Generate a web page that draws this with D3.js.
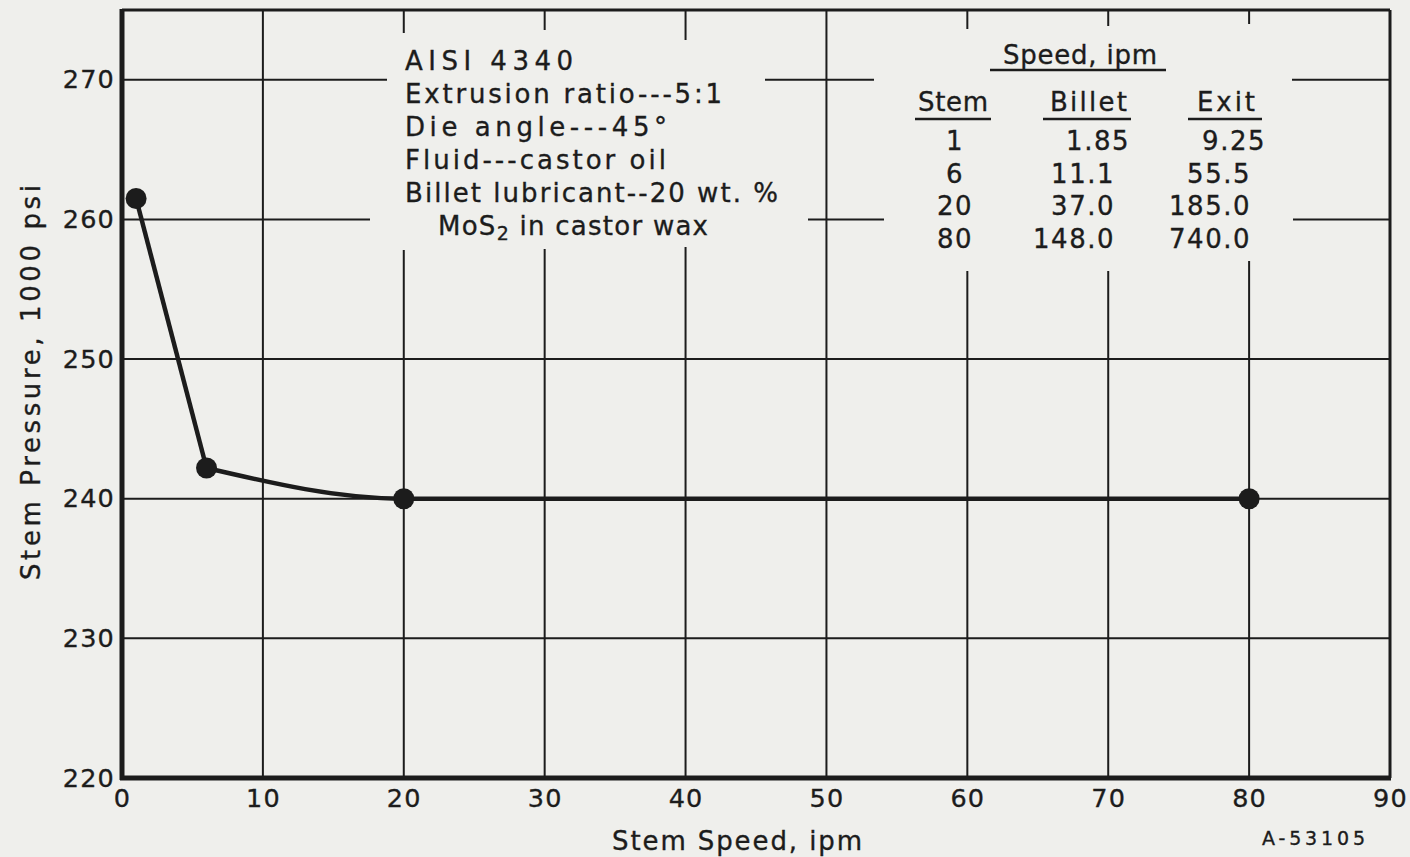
<!DOCTYPE html>
<html>
<head>
<meta charset="utf-8">
<script src="https://cdn.jsdelivr.net/npm/d3@7"></script>
<style>
  html, body { margin: 0; padding: 0; background: #efefec; }
  svg { display: block; }
  text { font-family: "DejaVu Sans", sans-serif; fill: #1c1c1c; stroke: #1c1c1c; stroke-width: 0.35px; }
</style>
</head>
<body>
<svg id="chart" width="1410" height="857"></svg>
<script>
// ---- data ----
const stemSpeed = [1, 6, 20, 80];
const stemPressure = [261.5, 242.2, 240, 240];
const xTicks = [0, 10, 20, 30, 40, 50, 60, 70, 80, 90];
const yTicks = [220, 230, 240, 250, 260, 270];
const tableStem = ["1", "6", "20", "80"];
const tableBillet = ["1.85", "11.1", "37.0", "148.0"];
const tableExit = ["9.25", "55.5", "185.0", "740.0"];
const notes = ["AISI 4340", "Extrusion ratio---5:1", "Die angle---45°", "Fluid---castor oil", "Billet lubricant--20 wt. %"];
const xTitle = "Stem Speed, ipm";
const yTitle = "Stem Pressure, 1000 psi";
const figId = "A-53105";

// ---- layout ----
const svg = d3.select("#chart");
const L = 122, R = 1390, T = 10, B = 778;
const x = d3.scaleLinear().domain([0, 90]).range([L, R]);
const y = d3.scaleLinear().domain([220, 275]).range([B, T]);
const ink = "#1c1c1c";

// grid lines (with breaks around the annotation blocks, in pixels)
const hBreaks = {
  270: [[L, 387], [765, 874], [1292, R]],
  260: [[L, 370], [808, 884], [1293, R]]
};
const vBreaks = {
  20: [[T, 33], [250, B]],
  30: [[T, 30], [249, B]],
  40: [[T, 40], [247, B]],
  60: [[T, 29], [271, B]],
  70: [[T, 26], [271, B]],
  80: [[T, 24], [261, B]]
};
const grid = svg.append("g").attr("stroke", ink).attr("stroke-width", 2);
yTicks.filter(v => v > 220).forEach(v => {
  (hBreaks[v] || [[L, R]]).forEach(s => {
    grid.append("line").attr("x1", s[0]).attr("x2", s[1]).attr("y1", y(v)).attr("y2", y(v));
  });
});
xTicks.filter(v => v > 0 && v < 90).forEach(v => {
  (vBreaks[v] || [[T, B]]).forEach(s => {
    grid.append("line").attr("x1", x(v)).attr("x2", x(v)).attr("y1", s[0]).attr("y2", s[1]);
  });
});

// frame
svg.append("line").attr("x1", L).attr("x2", R).attr("y1", T).attr("y2", T).attr("stroke", ink).attr("stroke-width", 3);
svg.append("line").attr("x1", R).attr("x2", R).attr("y1", T).attr("y2", B).attr("stroke", ink).attr("stroke-width", 3);

// axes
const yAxis = svg.append("g").attr("transform", `translate(${L},0)`)
  .call(d3.axisLeft(y).tickValues(yTicks).tickSize(0).tickPadding(7).tickFormat(d3.format("d")));
const xAxis = svg.append("g").attr("transform", `translate(0,${B})`)
  .call(d3.axisBottom(x).tickValues(xTicks).tickSize(0).tickPadding(11).tickFormat(d3.format("d")));
[yAxis, xAxis].forEach(g => {
  g.select(".domain").remove();
  g.selectAll("text").attr("font-size", 25.5).attr("letter-spacing", 1.2).attr("fill", ink)
    .style("font-family", '"DejaVu Sans", sans-serif');
});
svg.append("line").attr("x1", L).attr("x2", L).attr("y1", T - 1).attr("y2", B + 2).attr("stroke", ink).attr("stroke-width", 5);
svg.append("line").attr("x1", L - 2).attr("x2", R + 1).attr("y1", B).attr("y2", B).attr("stroke", ink).attr("stroke-width", 5);

// axis titles
svg.append("text").attr("x", 612).attr("y", 850).attr("textLength", 250).attr("lengthAdjust", "spacing")
  .attr("font-size", 26).text(xTitle);
svg.append("text").attr("transform", `translate(40,${580}) rotate(-90)`)
  .attr("textLength", 395).attr("lengthAdjust", "spacing")
  .attr("font-size", 26).text(yTitle);
svg.append("text").attr("x", 1262).attr("y", 845).attr("textLength", 103).attr("lengthAdjust", "spacing")
  .attr("font-size", 19).text(figId);

// data line
const pts = stemSpeed.map((s, i) => [s, stemPressure[i]]);
const lineLin = d3.line().x(d => x(d[0])).y(d => y(d[1]));
const lineCurve = d3.line().x(d => x(d[0])).y(d => y(d[1])).curve(d3.curveMonotoneX);
svg.append("path").attr("d", lineLin(pts.slice(0, 2))).attr("fill", "none").attr("stroke", ink).attr("stroke-width", 4.5);
svg.append("path").attr("d", lineCurve(pts.slice(1))).attr("fill", "none").attr("stroke", ink).attr("stroke-width", 4.5);
svg.selectAll("circle.pt").data(pts).join("circle").attr("class", "pt")
  .attr("cx", d => x(d[0])).attr("cy", d => y(d[1])).attr("r", 10.5).attr("fill", ink);

// left annotation block
const noteWidths = [168, 317, 262, 261, 373];
const noteG = svg.append("g").attr("font-size", 26);
notes.forEach((t, i) => {
  noteG.append("text").attr("x", 405).attr("y", 70 + i * 33)
    .attr("textLength", noteWidths[i]).attr("lengthAdjust", "spacing").text(t);
});
const mo = noteG.append("text").attr("x", 438).attr("y", 70 + 5 * 33)
  .attr("textLength", 270).attr("lengthAdjust", "spacing");
mo.append("tspan").text("MoS");
mo.append("tspan").attr("font-size", 19).attr("dy", 5).text("2");
mo.append("tspan").attr("dy", -5).text(" in castor wax");

// right table
const tab = svg.append("g").attr("font-size", 26);
tab.append("text").attr("x", 1003).attr("y", 64).attr("textLength", 154).attr("lengthAdjust", "spacing").text("Speed, ipm");
tab.append("line").attr("x1", 990).attr("x2", 1166).attr("y1", 70).attr("y2", 70).attr("stroke", ink).attr("stroke-width", 2.5);
const heads = [["Stem", 918, 70, 915, 991], ["Billet", 1050, 77, 1043, 1131], ["Exit", 1197, 58, 1188, 1262]];
heads.forEach(h => {
  tab.append("text").attr("x", h[1]).attr("y", 111).attr("textLength", h[2]).attr("lengthAdjust", "spacing").text(h[0]);
  tab.append("line").attr("x1", h[3]).attr("x2", h[4]).attr("y1", 119).attr("y2", 119).attr("stroke", ink).attr("stroke-width", 2.5);
});
const rowY = i => 150 + i * 32.5;
const firstRowShift = 15;
const rowText = sel => sel.attr("y", (d, i) => rowY(i)).attr("letter-spacing", 1.5).text(d => d);
rowText(tab.selectAll("text.stem").data(tableStem).join("text").attr("class", "stem")
  .attr("x", 955).attr("text-anchor", "middle"));
rowText(tab.selectAll("text.billet").data(tableBillet).join("text").attr("class", "billet")
  .attr("x", (d, i) => 1115 + (i === 0 ? firstRowShift : 0)).attr("text-anchor", "end"));
rowText(tab.selectAll("text.exit").data(tableExit).join("text").attr("class", "exit")
  .attr("x", (d, i) => 1251 + (i === 0 ? firstRowShift : 0)).attr("text-anchor", "end"));
</script>
</body>
</html>
